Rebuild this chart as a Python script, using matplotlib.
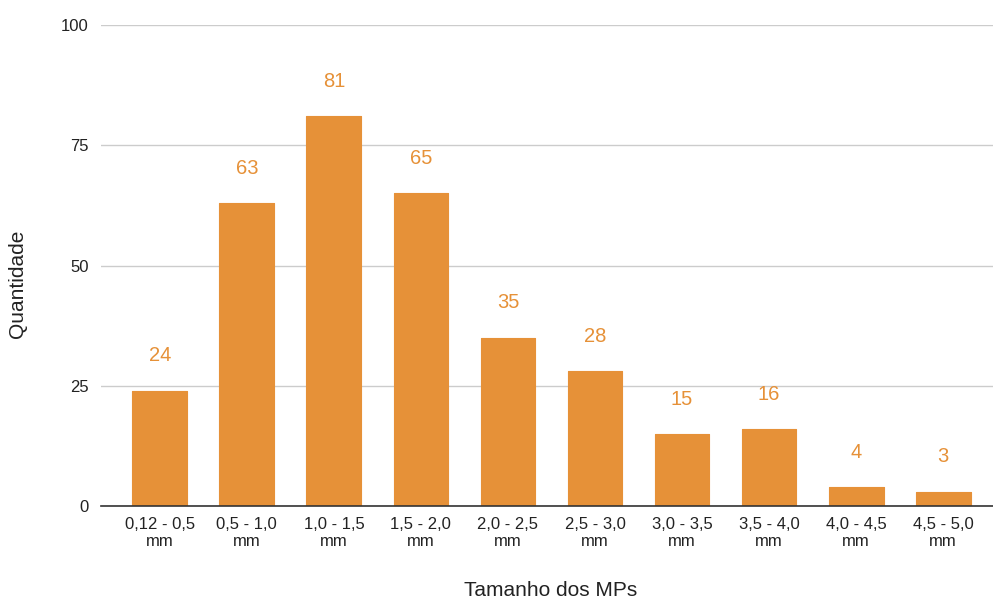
import matplotlib
matplotlib.use("Agg")
import matplotlib.pyplot as plt

plt.rcParams['font.family'] = ['Liberation Sans', 'DejaVu Sans']

categories = ["0,12 - 0,5\nmm", "0,5 - 1,0\nmm", "1,0 - 1,5\nmm", "1,5 - 2,0\nmm",
              "2,0 - 2,5\nmm", "2,5 - 3,0\nmm", "3,0 - 3,5\nmm", "3,5 - 4,0\nmm",
              "4,0 - 4,5\nmm", "4,5 - 5,0\nmm"]
values = [24, 63, 81, 65, 35, 28, 15, 16, 4, 3]
yticks = [0, 25, 50, 75, 100]

bar_color = "#E69138"

fig = plt.figure(figsize=(9.93, 6.01), dpi=100)
ax = fig.add_axes([101/993, 1 - 506/601, (993-101)/993, (506-25)/601])

x = list(range(len(categories)))
bars = ax.bar(x, values, width=0.63, color=bar_color, edgecolor=bar_color,
              linewidth=0.8, joinstyle='round', zorder=3)

for xi, v in zip(x, values):
    ax.annotate(str(v), (xi, v), xytext=(0, 25), textcoords='offset points',
                ha='center', va='center', color=bar_color, fontsize=14.5)

ax.set_xlim(-0.676, 9.573)
ax.set_ylim(0, 100)
ax.set_yticks(yticks)
ax.set_yticklabels([str(t) for t in yticks])
ax.set_xticks(x)
ax.set_xticklabels(categories, linespacing=1.15)

ax.grid(axis='y', color='#cccccc', linewidth=1, zorder=0)
ax.tick_params(axis='both', length=0, labelsize=12, labelcolor='#222222')
ax.tick_params(axis='y', pad=9)
ax.tick_params(axis='x', pad=8)
for side in ['top', 'right', 'left']:
    ax.spines[side].set_visible(False)
ax.spines['bottom'].set_color('#333333')
ax.spines['bottom'].set_linewidth(1.2)
ax.spines['bottom'].set_zorder(4)

fig.text(18/993, 1 - 284/601, "Quantidade", rotation=90, ha='center', va='center',
         fontsize=15, color='#222222')
fig.text(551/993, 1 - 590/601, "Tamanho dos MPs", ha='center', va='center',
         fontsize=15, color='#222222')

fig.savefig("out.png", dpi=100)
